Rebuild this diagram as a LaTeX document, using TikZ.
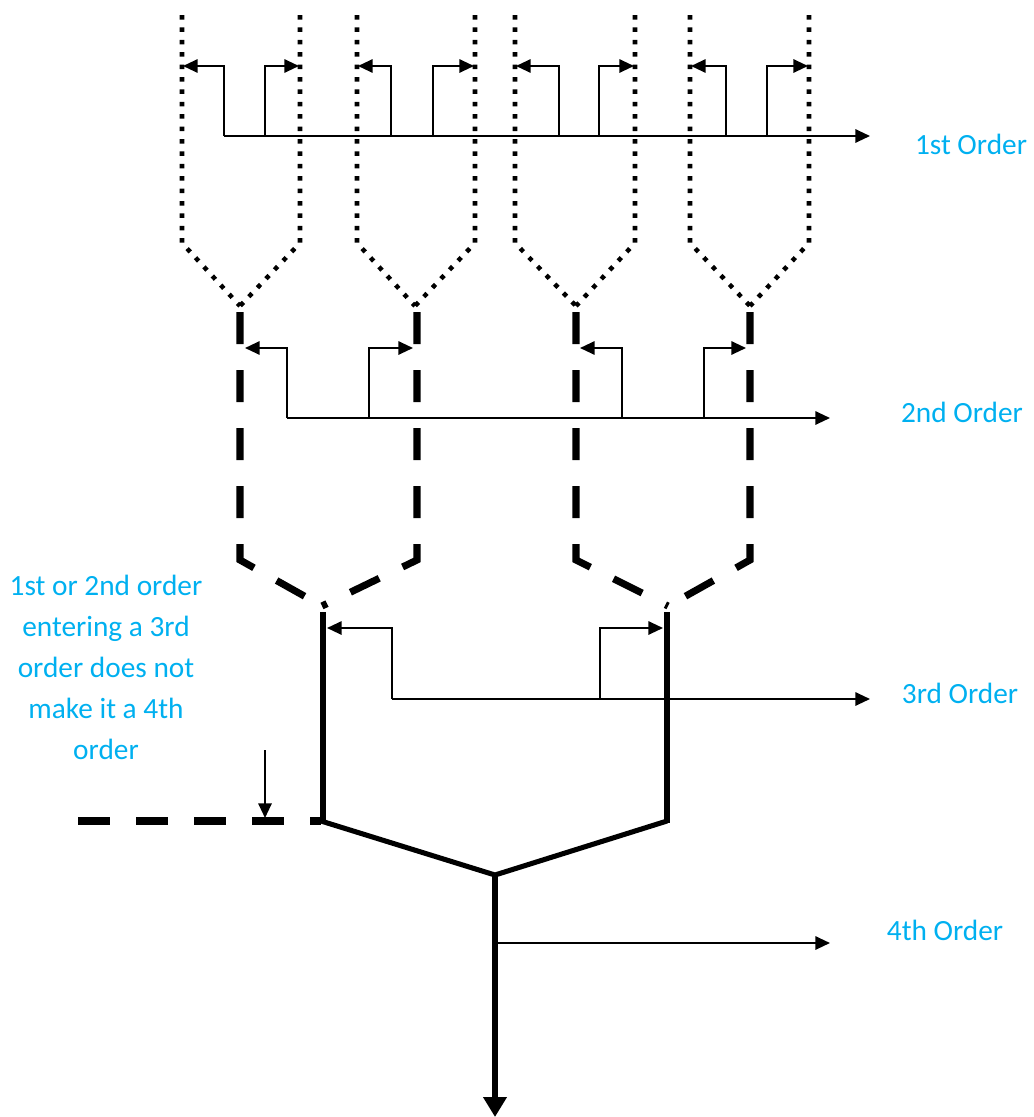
\documentclass[tikz,border=0pt]{standalone}
\usepackage{fontspec}
\setmainfont{Carlito}
\usetikzlibrary{arrows.meta}
\definecolor{lblue}{RGB}{0,176,240}
\begin{document}
\begin{tikzpicture}[x=0.75pt,y=-0.75pt,
  dotl/.style={line width=3.4pt, dash pattern=on 3.4pt off 5.9pt},
  dashl/.style={line width=5.3pt, dash pattern=on 24pt off 19.5pt},
  thickl/.style={line width=3.8pt},
  thinl/.style={line width=1.5pt},
  tip/.style={-{Triangle[length=11pt,width=10pt]}},
  lbl/.style={text=lblue, font=\fontsize{22}{30.75}\selectfont, inner sep=0pt}
]
\useasboundingbox (0,0) rectangle (1033,1117);
% first order streams (dotted)
\foreach \l/\r/\c in {182/300/240, 357/475/415, 515/635/576, 690/809/750} {
  \draw[dotl] (\l,15) -- (\l,243) -- (\c,306);
  \draw[dotl] (\r,15) -- (\r,243) -- (\c,306);
}
% second order streams (dashed)
\foreach \l/\r/\c in {240/417/322, 576/750/668} {
  \draw[dashl] (\l,312) -- (\l,560) -- (\c,606);
  \draw[dashl] (\r,312) -- (\r,560) -- (\c,606);
}
% third order streams
\draw[thickl] (323,612) -- (323,821);
\draw[thickl] (667,612) -- (667,823);
% side dashed stream
\draw[dashl] (78,821) -- (321,821);
% fourth order
\coordinate (j4) at (495,875);
\draw[thickl] (321,821) -- (j4) -- (667,821);
\draw[line width=5pt, -{Triangle[length=15pt,width=17pt]}] (495,873) -- (495,1117);
% 1st order arrows
\draw[thinl,tip] (224,136) -- (870,136);
\foreach \v/\t in {224/183, 265/299, 391/358, 433/474, 559/516, 599/634, 726/691, 767/808} {
  \draw[thinl,tip] (\v,136) -- (\v,66) -- (\t,66);
}
% 2nd order arrows
\draw[thinl,tip] (287,418) -- (830,418);
\foreach \v/\t in {287/245, 369/413, 622/580, 704/746} {
  \draw[thinl,tip] (\v,418) -- (\v,348) -- (\t,348);
}
% 3rd order arrows
\draw[thinl,tip] (392,699) -- (870,699);
\foreach \v/\t in {392/327, 600/663} {
  \draw[thinl,tip] (\v,699) -- (\v,628) -- (\t,628);
}
% 4th order arrow
\draw[thinl,tip] (495,943) -- (830,943);
% pointer arrow
\draw[thinl,tip] (265,750) -- (265,818);
% labels
\node[lbl] (l1) at (971,144) {1st Order};
\node[lbl] (l2) at (962,412) {2nd Order};
\node[lbl] (l3) at (960,693) {3rd Order};
\node[lbl] (l4) at (945,930) {4th Order};
\node[lbl, align=center] (note) at (106,667) {1st or 2nd order\\entering a 3rd\\order does not\\make it a 4th\\order};
\end{tikzpicture}
\end{document}
